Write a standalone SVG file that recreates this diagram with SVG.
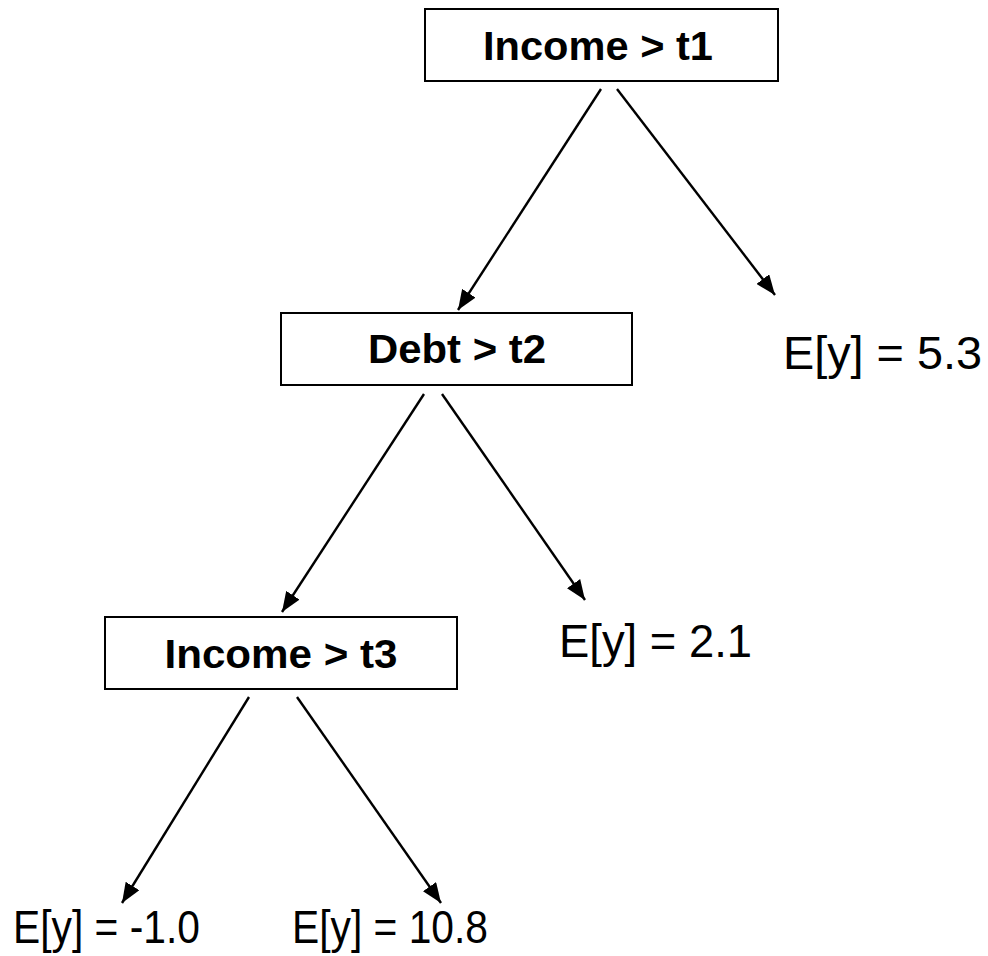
<svg xmlns="http://www.w3.org/2000/svg" width="988" height="956" viewBox="0 0 988 956">
<style>
.box{fill:#fff;stroke:#000;stroke-width:2}
.bt{font-family:"Liberation Sans",Arial,sans-serif;font-weight:bold;font-size:41.5px;fill:#000;text-anchor:middle}
.lt{font-family:"Liberation Sans",Arial,sans-serif;font-size:47px;fill:#000}
.edge{stroke:#000;stroke-width:2.4;fill:none;marker-end:url(#ah)}
</style>
<defs>
<marker id="ah" markerUnits="userSpaceOnUse" markerWidth="22" markerHeight="16" refX="20" refY="8" orient="auto">
<path d="M0,0 L20,8 L0,16 Z" fill="#000"/>
</marker>
</defs>
<rect width="988" height="956" fill="#fff"/>
<g id="edges">
<line class="edge" x1="601" y1="89" x2="458" y2="310"/>
<line class="edge" x1="617" y1="89" x2="775" y2="295"/>
<line class="edge" x1="424" y1="394" x2="282" y2="612"/>
<line class="edge" x1="442" y1="394" x2="585" y2="600"/>
<line class="edge" x1="249" y1="697" x2="122" y2="903"/>
<line class="edge" x1="297" y1="697" x2="441" y2="903"/>
</g>
<g id="n1">
<rect class="box" x="425" y="9" width="353" height="72"/>
<text class="bt" x="598" y="60" textLength="230" lengthAdjust="spacingAndGlyphs">Income &gt; t1</text>
</g>
<g id="n2">
<rect class="box" x="281" y="313" width="351" height="72"/>
<text class="bt" x="457" y="363" textLength="178" lengthAdjust="spacingAndGlyphs">Debt &gt; t2</text>
</g>
<g id="n3">
<rect class="box" x="105" y="617" width="352" height="72"/>
<text class="bt" x="281" y="668" textLength="233" lengthAdjust="spacingAndGlyphs">Income &gt; t3</text>
</g>
<g id="l1">
<text class="lt" x="783" y="369" textLength="199" lengthAdjust="spacingAndGlyphs">E[y] = 5.3</text>
</g>
<g id="l2">
<text class="lt" x="559" y="657" textLength="193" lengthAdjust="spacingAndGlyphs">E[y] = 2.1</text>
</g>
<g id="l3">
<text class="lt" x="13" y="943" textLength="187" lengthAdjust="spacingAndGlyphs">E[y] = -1.0</text>
</g>
<g id="l4">
<text class="lt" x="292" y="943" textLength="196" lengthAdjust="spacingAndGlyphs">E[y] = 10.8</text>
</g>
</svg>
